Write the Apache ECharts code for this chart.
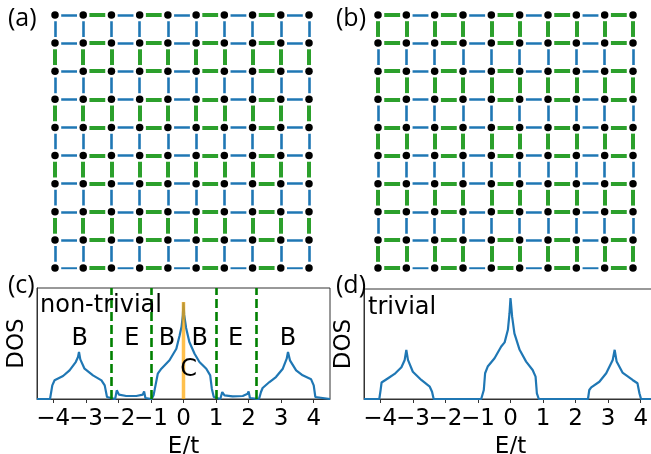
<!DOCTYPE html>
<html><head><meta charset="utf-8">
<script src="https://cdn.jsdelivr.net/npm/echarts@6/dist/echarts.min.js"></script>
<style>html,body{margin:0;padding:0;background:#fff}#c{width:651px;height:454px}</style>
</head><body><div id="c"></div>
<script>
// ---- data ----
const latticeN = 10;            // sites per side
const greenParityA = 1;         // panel (a): bonds with odd index are strong (green)
const greenParityB = 0;         // panel (b): bonds with even index are strong (green)
const eTicks = [-4, -3, -2, -1, 0, 1, 2, 3, 4];
const eLabelsEven = [-4, -2, 0, 2, 4];
const eLabelsOdd = [-3, -1, 1, 3];
const dosNonTrivial = [[-4.5,0],[-4.10,0],[-4.03,0.123],[-3.96,0.169],[-3.70,0.207],[-3.50,0.258],[-3.31,0.333],[-3.24,0.378],[-3.21,0.423],[-3.17,0.357],[-3.04,0.273],[-2.78,0.213],[-2.52,0.168],[-2.42,0.123],[-2.35,0.018],[-2.32,0],[-2.10,0],[-2.05,0.078],[-1.98,0.039],[-1.76,0.027],[-1.45,0.027],[-1.25,0.039],[-1.21,0.069],[-1.17,0.009],[-1.13,0],[-0.98,0],[-0.92,0.033],[-0.86,0.123],[-0.79,0.228],[-0.68,0.273],[-0.43,0.349],[-0.22,0.453],[-0.12,0.573],[-0.06,0.65],[-0.02,0.754],[0,0.87],[0.02,0.76],[0.08,0.64],[0.18,0.514],[0.34,0.408],[0.49,0.333],[0.70,0.273],[0.82,0.213],[0.87,0.093],[0.93,0.018],[0.98,0],[1.13,0],[1.19,0.063],[1.26,0.033],[1.51,0.024],[1.82,0.027],[1.97,0.047],[2.00,0.069],[2.04,0.009],[2.09,0],[2.32,0],[2.38,0.063],[2.43,0.099],[2.64,0.153],[2.84,0.198],[3.05,0.273],[3.17,0.363],[3.21,0.423],[3.27,0.348],[3.46,0.258],[3.66,0.213],[3.92,0.177],[4.00,0.123],[4.05,0.018],[4.10,0],[4.5,0]];
const dosTrivial = [[-4.5,0],[-4.03,0],[-3.99,0.08],[-3.96,0.15],[-3.76,0.189],[-3.56,0.228],[-3.35,0.289],[-3.25,0.355],[-3.20,0.447],[-3.15,0.355],[-3.00,0.248],[-2.74,0.173],[-2.48,0.112],[-2.41,0.066],[-2.36,0],[-0.90,0],[-0.82,0.082],[-0.78,0.234],[-0.70,0.295],[-0.49,0.371],[-0.285,0.477],[-0.18,0.515],[-0.08,0.629],[-0.03,0.78],[0,0.918],[0.05,0.748],[0.12,0.596],[0.28,0.447],[0.48,0.340],[0.68,0.264],[0.77,0.203],[0.81,0.052],[0.87,0],[2.38,0],[2.42,0.082],[2.48,0.106],[2.73,0.157],[2.94,0.234],[3.14,0.355],[3.20,0.447],[3.26,0.340],[3.44,0.240],[3.75,0.173],[3.90,0.143],[3.96,0.052],[4.01,0],[4.5,0]];
const gapEdges = [-2.22, -1, 1, 2.22];
const zeroMode = [[0, 0], [0, 0.874]];
const regionLabels = ['B', 'E', 'B', 'B', 'E', 'B', 'C'];
const regionX = [-3.19, -1.59, -0.51, 0.50, 1.60, 3.21, 0.16];
const regionY = [0.54, 0.54, 0.54, 0.54, 0.54, 0.54, 0.26];

// ---- helpers ----
const BLUE = '#1f77b4', GREEN = '#2ca02c';
function buildBonds(parity) {
  const blue = [], green = [];
  const a = 0.22, b = 0.78;
  for (let r = 0; r < latticeN; r++) {
    for (let c = 0; c < latticeN - 1; c++) {
      const item = { coords: [[c + a, r], [c + b, r]] };
      (c % 2 === parity ? green : blue).push(item);
    }
  }
  for (let c = 0; c < latticeN; c++) {
    for (let r = 0; r < latticeN - 1; r++) {
      const item = { coords: [[c, r + a], [c, r + b]] };
      (r % 2 === parity ? green : blue).push(item);
    }
  }
  return { blue, green };
}
const sites = [];
for (let r = 0; r < latticeN; r++) for (let c = 0; c < latticeN; c++) sites.push([c, r]);
const bondsA = buildBonds(greenParityA), bondsB = buildBonds(greenParityB);
const fmt = v => (v < 0 ? '\u2212' + (-v) : String(v));
const FONT = 'DejaVu Sans';

function latticeSeries(idx, bonds) {
  return [
    { type: 'lines', coordinateSystem: 'cartesian2d', xAxisIndex: idx, yAxisIndex: idx, polyline: false, silent: true,
      lineStyle: { color: BLUE, width: 2.6, opacity: 1, cap: 'butt' }, data: bonds.blue, z: 2 },
    { type: 'lines', coordinateSystem: 'cartesian2d', xAxisIndex: idx, yAxisIndex: idx, polyline: false, silent: true,
      lineStyle: { color: GREEN, width: 4, opacity: 1, cap: 'butt' }, data: bonds.green, z: 2 },
    { type: 'scatter', xAxisIndex: idx, yAxisIndex: idx, symbol: 'circle', symbolSize: 7.5, silent: true,
      itemStyle: { color: '#000', opacity: 1 }, data: sites, z: 3 }
  ];
}
function latAxis(idx) { return { type: 'value', gridIndex: idx, min: 0, max: latticeN - 1, show: false }; }
const labelStyle = { fontSize: 23, color: '#000', fontFamily: FONT, margin: 9, hideOverlap: false, showMinLabel: true, showMaxLabel: true, formatter: fmt };
function dosX(idx) {
  return { type: 'value', gridIndex: idx, min: -4.5, max: 4.5, position: 'bottom',
    axisLine: { show: true, onZero: false, lineStyle: { color: '#333', width: 1 } },
    axisTick: { show: true, length: 4, customValues: eTicks, lineStyle: { color: '#333' } },
    axisLabel: Object.assign({ customValues: eLabelsEven }, labelStyle),
    splitLine: { show: false },
    name: 'E/t', nameLocation: 'middle', nameGap: 37,
    nameTextStyle: { fontSize: 23, color: '#000', fontFamily: FONT } };
}
function dosXOdd(idx) {
  return { type: 'value', gridIndex: idx, min: -4.5, max: 4.5, position: 'bottom', offset: 0,
    axisLine: { show: false, onZero: false }, axisTick: { show: false },
    axisLabel: Object.assign({ customValues: eLabelsOdd }, labelStyle),
    splitLine: { show: false } };
}
function dosY(idx) {
  return { type: 'value', gridIndex: idx, min: 0, max: 1,
    axisLine: { show: true, onZero: false, lineStyle: { color: '#333', width: 1 } },
    axisTick: { show: false }, axisLabel: { show: false }, splitLine: { show: false },
    name: 'DOS', nameLocation: 'middle', nameGap: 8, nameRotate: 90,
    nameTextStyle: { fontSize: 23, color: '#000', fontFamily: FONT } };
}
function title(text, left, top, size, font) {
  return { text, left, top, padding: 0, textStyle: { fontSize: size, fontWeight: 'normal', color: '#000', fontFamily: font } };
}

const chart = echarts.init(document.getElementById('c'), null, { renderer: 'canvas' });
chart.setOption({
  animation: false,
  backgroundColor: '#fff',
  title: [
    title('(a)', 8, 6, 25, 'Open Sans'),
    title('(b)', 336, 6, 25, 'Open Sans'),
    title('(c)', 8, 273, 25, 'Open Sans'),
    title('(d)', 336, 273, 25, 'Open Sans'),
    title('non-trivial', 40, 294, 24, FONT),
    title('trivial', 368, 296, 24, FONT)
  ],
  grid: [
    { left: 55, top: 15, width: 254, height: 253, outerBoundsMode: 'none' },
    { left: 378, top: 15, width: 255, height: 253, outerBoundsMode: 'none' },
    { left: 37, top: 288, width: 293, height: 111, show: true, borderColor: '#333', borderWidth: 1, backgroundColor: 'transparent', outerBoundsMode: 'none' },
    { left: 364, top: 289, width: 293, height: 110, show: true, borderColor: '#333', borderWidth: 1, backgroundColor: 'transparent', outerBoundsMode: 'none' }
  ],
  xAxis: [latAxis(0), latAxis(1), dosX(2), dosX(3), dosXOdd(2), dosXOdd(3)],
  yAxis: [latAxis(0), latAxis(1), dosY(2), dosY(3)],
  series: [
    ...latticeSeries(0, bondsA),
    ...latticeSeries(1, bondsB),
    { type: 'line', xAxisIndex: 2, yAxisIndex: 2, data: dosNonTrivial, showSymbol: false, symbol: 'none', silent: true,
      lineStyle: { color: BLUE, width: 2.2 }, z: 2,
      markLine: { silent: true, symbol: 'none', label: { show: false },
        lineStyle: { color: '#008000', width: 2.6, type: [9, 4] },
        data: gapEdges.map(v => ({ xAxis: v })) } },
    { type: 'line', xAxisIndex: 2, yAxisIndex: 2, data: zeroMode, showSymbol: false, symbol: 'none', silent: true,
      lineStyle: { color: 'rgba(255,165,0,0.7)', width: 3.5, cap: 'butt' }, z: 4 },
    { type: 'scatter', xAxisIndex: 2, yAxisIndex: 2, symbolSize: 1, silent: true, z: 5,
      itemStyle: { color: 'rgba(0,0,0,0)', opacity: 1 },
      label: { show: true, position: 'inside', formatter: p => p.name, fontSize: 24, color: '#000', opacity: 1, fontFamily: FONT },
      data: regionLabels.map((t, i) => ({ name: t, value: [regionX[i], regionY[i]] })) },
    { type: 'line', xAxisIndex: 3, yAxisIndex: 3, data: dosTrivial, showSymbol: false, symbol: 'none', silent: true,
      lineStyle: { color: BLUE, width: 2.2 }, z: 2 }
  ]
});
</script></body></html>
